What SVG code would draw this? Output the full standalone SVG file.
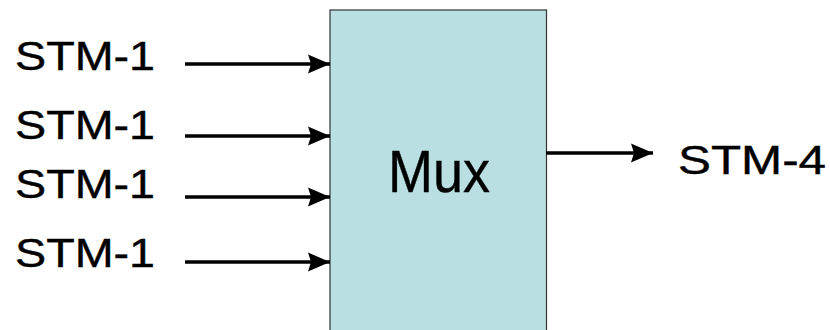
<svg xmlns="http://www.w3.org/2000/svg" width="830" height="330" viewBox="0 0 830 330">
  <defs>
    <marker id="head" viewBox="0 0 22 20" refX="22" refY="10" markerWidth="22" markerHeight="20" markerUnits="userSpaceOnUse" orient="auto">
      <path d="M0,0.5 L22,10 L0,19.5 L3,10 Z" fill="#000"/>
    </marker>
    <style>
      .lbl { font-family: "Liberation Sans", Arial, sans-serif; font-size: 40px; fill: #000; stroke: #000; stroke-width: 0.4; }
      .wire { stroke: #000; stroke-width: 3.5; fill: none; marker-end: url(#head); }
      .box { fill: #b9dfe3; stroke: #333; stroke-width: 1.2; }
    </style>
  </defs>
  <rect width="830" height="330" fill="#fff"/>

  <!-- multiplexer block -->
  <g id="mux">
    <rect class="box" x="330" y="10" width="216.5" height="330"/>
    <text class="lbl" x="388" y="191.5" style="font-size:59px" textLength="102" lengthAdjust="spacingAndGlyphs">Mux</text>
  </g>

  <!-- tributary inputs -->
  <g id="in1"><text class="lbl" x="15" y="70" textLength="140" lengthAdjust="spacingAndGlyphs">STM-1</text></g>
  <g id="in2"><text class="lbl" x="15" y="139" textLength="140" lengthAdjust="spacingAndGlyphs">STM-1</text></g>
  <g id="in3"><text class="lbl" x="15" y="198" textLength="140" lengthAdjust="spacingAndGlyphs">STM-1</text></g>
  <g id="in4"><text class="lbl" x="15" y="266.5" textLength="140" lengthAdjust="spacingAndGlyphs">STM-1</text></g>

  <!-- aggregate output -->
  <g id="out"><text class="lbl" x="678" y="173.5" textLength="148" lengthAdjust="spacingAndGlyphs">STM-4</text></g>

  <g id="connectors">
    <line class="wire" x1="185" y1="64" x2="330" y2="64"/>
    <line class="wire" x1="185" y1="136" x2="330" y2="136"/>
    <line class="wire" x1="185" y1="197" x2="330" y2="197"/>
    <line class="wire" x1="185" y1="262" x2="330" y2="262"/>
    <line class="wire" x1="546" y1="153" x2="653" y2="153"/>
  </g>
</svg>
